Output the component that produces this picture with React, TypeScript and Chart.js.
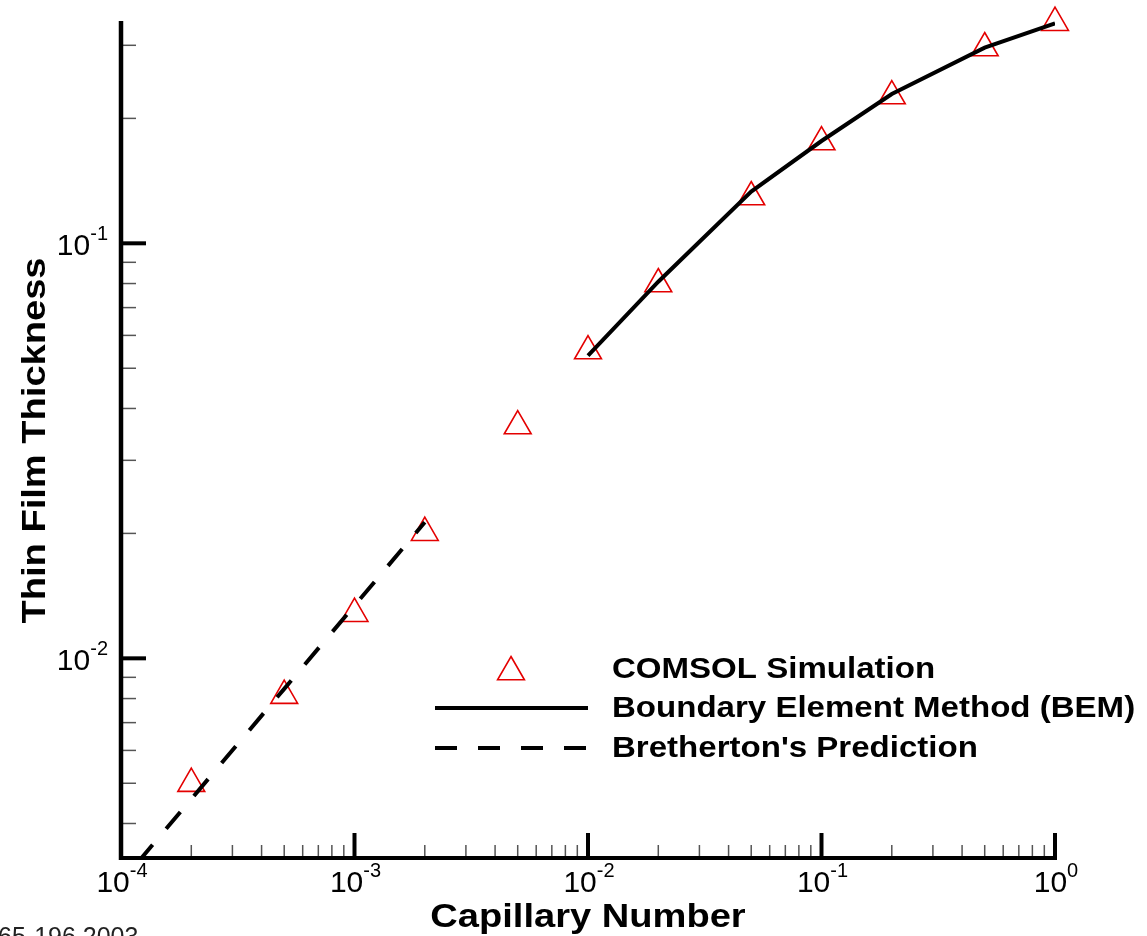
import { useEffect, useRef } from 'react';
import { Chart, registerables } from 'chart.js';

Chart.register(...registerables);

// ---- data ----
const capillaryComsol = [2e-4, 5e-4, 1e-3, 2e-3, 5e-3, 1e-2, 2e-2, 5e-2, 0.1, 0.2, 0.5, 1];
const thicknessComsol = [0.00499, 0.00813, 0.01281, 0.02008, 0.03628, 0.055, 0.0798, 0.1293, 0.1754, 0.2264, 0.2955, 0.3401];

const capillaryBem = [0.01, 0.02, 0.05, 0.1, 0.2, 0.5, 1];
const thicknessBem = [0.0536, 0.0808, 0.1332, 0.1764, 0.229, 0.2961, 0.3389];

const capillaryBretherton = [1e-4, 2e-4, 5e-4, 1e-3, 2e-3];
const thicknessBretherton = [0.002887, 0.004582, 0.008443, 0.0134, 0.02127];

const xTickExponents = [-4, -3, -2, -1, 0];
const yTickExponents = [-2, -1];
const minorMultipliers = [2, 3, 4, 5, 6, 7, 8, 9];

const legendLabels = ['COMSOL Simulation', 'Boundary Element Method (BEM)', "Bretherton's Prediction"];
const xTitle = 'Capillary Number';
const yTitle = 'Thin Film Thickness';
const footnote = '65-196 2003';

const FONT = '"Liberation Sans", Arial, Helvetica, sans-serif';
const RED = 'rgb(228,0,0)';
const STRETCH = 1.12;

function drawStretched(ctx: CanvasRenderingContext2D, text: string, x: number, y: number, sx: number) {
  ctx.save();
  ctx.translate(x, y);
  ctx.scale(sx, 1);
  ctx.fillText(text, 0, 0);
  ctx.restore();
}

function drawPower(ctx: CanvasRenderingContext2D, exp: number, anchorX: number, baseY: number, align: 'center' | 'right') {
  const base = '10';
  const sup = String(exp);
  ctx.font = `30px ${FONT}`;
  const wb = ctx.measureText(base).width;
  ctx.font = `20px ${FONT}`;
  const ws = ctx.measureText(sup).width;
  const total = wb + ws;
  const startX = align === 'center' ? anchorX - total / 2 : anchorX - total;
  ctx.textAlign = 'left';
  ctx.textBaseline = 'alphabetic';
  ctx.font = `30px ${FONT}`;
  ctx.fillText(base, startX, baseY);
  ctx.font = `20px ${FONT}`;
  ctx.fillText(sup, startX + wb, baseY - 15);
}

const decorPlugin = {
  id: 'tecplotDecor',
  afterDatasetsDraw(chart: any) {
    const ctx: CanvasRenderingContext2D = chart.ctx;
    const a = chart.chartArea;
    const xs = chart.scales.x;
    const ys = chart.scales.y;
    ctx.save();

    // minor ticks (inside)
    ctx.strokeStyle = '#555';
    ctx.lineWidth = 1.5;
    for (let e = -4; e < 0; e++) {
      for (const m of minorMultipliers) {
        const px = xs.getPixelForValue(m * Math.pow(10, e));
        ctx.beginPath();
        ctx.moveTo(px, a.bottom);
        ctx.lineTo(px, a.bottom - 13);
        ctx.stroke();
      }
    }
    for (let e = -3; e < 0; e++) {
      for (const m of minorMultipliers) {
        const v = m * Math.pow(10, e);
        if (v < ys.min || v > ys.max) continue;
        const py = ys.getPixelForValue(v);
        ctx.beginPath();
        ctx.moveTo(a.left, py);
        ctx.lineTo(a.left + 15, py);
        ctx.stroke();
      }
    }

    // major ticks
    ctx.strokeStyle = '#000';
    ctx.lineWidth = 4;
    for (const e of xTickExponents) {
      const px = xs.getPixelForValue(Math.pow(10, e));
      ctx.beginPath();
      ctx.moveTo(px, a.bottom);
      ctx.lineTo(px, a.bottom - 25);
      ctx.stroke();
    }
    for (const e of yTickExponents) {
      const py = ys.getPixelForValue(Math.pow(10, e));
      ctx.beginPath();
      ctx.moveTo(a.left, py);
      ctx.lineTo(a.left + 25, py);
      ctx.stroke();
    }

    // axis lines
    ctx.lineWidth = 4.5;
    ctx.beginPath();
    ctx.moveTo(a.left, a.top);
    ctx.lineTo(a.left, a.bottom + 2);
    ctx.stroke();
    ctx.lineWidth = 4;
    ctx.beginPath();
    ctx.moveTo(a.left - 2, a.bottom);
    ctx.lineTo(a.right + 2, a.bottom);
    ctx.stroke();

    // tick labels
    ctx.fillStyle = '#000';
    for (const e of xTickExponents) {
      const px = xs.getPixelForValue(Math.pow(10, e));
      drawPower(ctx, e, px + 1, a.bottom + 34, 'center');
    }
    for (const e of yTickExponents) {
      const py = ys.getPixelForValue(Math.pow(10, e));
      drawPower(ctx, e, a.left - 13, py + 12, 'right');
    }

    // axis titles
    ctx.font = `bold 34px ${FONT}`;
    ctx.textAlign = 'center';
    ctx.textBaseline = 'alphabetic';
    drawStretched(ctx, xTitle, (a.left + a.right) / 2, 927, STRETCH);
    ctx.save();
    ctx.translate(45, (a.top + a.bottom) / 2 + 1);
    ctx.rotate(-Math.PI / 2);
    ctx.scale(STRETCH, 1);
    ctx.fillText(yTitle, 0, 0);
    ctx.restore();

    // legend
    const ds = chart.data.datasets;
    const rowsY = [669, 708, 748];
    const sampleL = 435;
    const sampleR = 588;
    const textX = 612;
    // triangle sample
    const r = ds[2].pointRadius;
    const cx = (sampleL + sampleR) / 2 - 0.5;
    const cy = rowsY[0] + 3;
    ctx.strokeStyle = ds[2].borderColor;
    ctx.lineWidth = ds[2].pointBorderWidth;
    ctx.beginPath();
    for (let i = 0; i < 3; i++) {
      const ang = (i * 2 * Math.PI) / 3;
      const px = cx + Math.sin(ang) * r;
      const py = cy - Math.cos(ang) * r;
      if (i === 0) ctx.moveTo(px, py);
      else ctx.lineTo(px, py);
    }
    ctx.closePath();
    ctx.stroke();
    // solid line sample
    ctx.strokeStyle = ds[0].borderColor;
    ctx.lineWidth = ds[0].borderWidth;
    ctx.setLineDash([]);
    ctx.beginPath();
    ctx.moveTo(sampleL, rowsY[1]);
    ctx.lineTo(sampleR, rowsY[1]);
    ctx.stroke();
    // dashed line sample
    ctx.strokeStyle = ds[1].borderColor;
    ctx.lineWidth = ds[1].borderWidth;
    ctx.setLineDash(ds[1].borderDash);
    ctx.lineDashOffset = 0;
    ctx.beginPath();
    ctx.moveTo(sampleL, rowsY[2]);
    ctx.lineTo(sampleR, rowsY[2]);
    ctx.stroke();
    ctx.setLineDash([]);
    // legend text
    ctx.fillStyle = '#000';
    ctx.font = `bold 29.5px ${FONT}`;
    ctx.textAlign = 'left';
    ctx.textBaseline = 'middle';
    for (let i = 0; i < 3; i++) {
      drawStretched(ctx, legendLabels[i], textX, rowsY[i] + 1, STRETCH);
    }

    // footnote (partially cut at bottom edge)
    ctx.font = `25px ${FONT}`;
    ctx.fillStyle = '#222';
    ctx.textAlign = 'left';
    ctx.textBaseline = 'alphabetic';
    ctx.fillText(footnote, -2, 945);

    ctx.restore();
  },
};

export default function App() {
  const canvasRef = useRef<HTMLCanvasElement | null>(null);

  useEffect(() => {
    const canvas = canvasRef.current;
    if (!canvas) return;
    const toPoints = (xs: number[], ys: number[]) => xs.map((x, i) => ({ x, y: ys[i] }));

    const chart = new Chart(canvas, {
      type: 'scatter',
      data: {
        datasets: [
          {
            label: legendLabels[1],
            data: toPoints(capillaryBem, thicknessBem),
            showLine: true,
            borderColor: '#000',
            borderWidth: 4,
            pointRadius: 0,
            tension: 0,
            order: 1,
          },
          {
            label: legendLabels[2],
            data: toPoints(capillaryBretherton, thicknessBretherton),
            showLine: true,
            borderColor: '#000',
            borderWidth: 4,
            borderDash: [22, 21],
            borderDashOffset: 16,
            pointRadius: 0,
            tension: 0,
            order: 2,
          },
          {
            label: legendLabels[0],
            data: toPoints(capillaryComsol, thicknessComsol),
            showLine: false,
            pointStyle: 'triangle',
            pointRadius: 15.5,
            pointHoverRadius: 15.5,
            pointBorderWidth: 1.6,
            borderColor: RED,
            pointBorderColor: RED,
            backgroundColor: 'rgba(0,0,0,0)',
            pointBackgroundColor: 'rgba(0,0,0,0)',
            clip: false,
            order: 3,
          } as any,
        ],
      },
      options: {
        animation: false,
        responsive: false,
        devicePixelRatio: 1,
        layout: { padding: { left: 121, top: 21, right: 92, bottom: 78 } },
        plugins: {
          legend: { display: false },
          tooltip: { enabled: false },
          title: { display: false },
        },
        events: [],
        scales: {
          x: {
            type: 'logarithmic',
            display: false,
            min: 1e-4,
            max: 1,
            bounds: 'data',
          },
          y: {
            type: 'logarithmic',
            display: false,
            min: 0.003303,
            max: 0.3433,
            bounds: 'data',
          },
        },
      } as any,
      plugins: [decorPlugin],
    });

    return () => chart.destroy();
  }, []);

  return (
    <canvas
      ref={canvasRef}
      width={1147}
      height={936}
      style={{ position: 'absolute', left: 0, top: 0, width: 1147, height: 936, background: '#fff' }}
    />
  );
}
